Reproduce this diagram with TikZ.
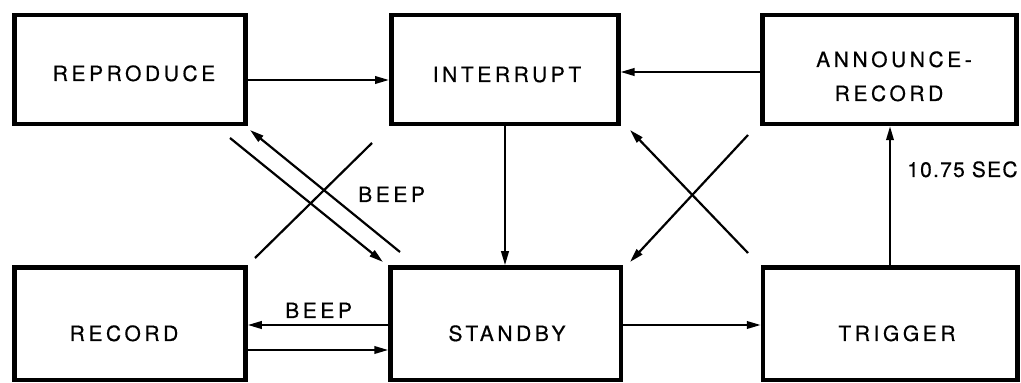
\documentclass[tikz,border=0pt]{standalone}
\usepackage{fontspec}
\usetikzlibrary{arrows.meta}
\newfontfamily\boxfont[LetterSpace=17,FakeBold=0.5]{TeX Gyre Heros}
\newfontfamily\secfont[LetterSpace=6,FakeBold=0.5]{TeX Gyre Heros}
\begin{document}
\begin{tikzpicture}[x=1pt,y=1pt,
  stbox/.style={draw, line width=4.5pt, minimum width=231pt, minimum height=109pt, inner sep=0pt},
  lbl/.style={font=\fontsize{21}{21}\selectfont\boxfont, inner sep=0pt, anchor=base},
  arr/.style={line width=2.2pt, -{Triangle[length=14pt,width=7.5pt]}},
  pln/.style={line width=2.2pt}]
\useasboundingbox (0,0) rectangle (1021,383);
% boxes
\node[stbox] (rep) at (130,313.5) {};
\node[stbox, minimum width=227pt] (int) at (504.75,313.5) {};
\node[stbox, minimum width=254pt] (ann) at (889.5,313.5) {};
\node[stbox, minimum height=112.5pt] (rec) at (130,59.25) {};
\node[stbox, minimum width=230.5pt, minimum height=112.5pt] (stb) at (505.75,59.25) {};
\node[stbox, minimum width=254.5pt, minimum height=112.5pt] (trg) at (890.25,59.25) {};
% labels
\node[lbl] (trep) at (134,302) {REPRODUCE};
\node[lbl] (tint) at (507,301) {INTERRUPT};
\node[lbl] (tann1) at (894,316) {ANNOUNCE-};
\node[lbl] (tann2) at (889,282) {RECORD};
\node[lbl] (trec) at (124,42) {RECORD};
\node[lbl] (tstb) at (507,42) {STANDBY};
\node[lbl] (ttrg) at (897,42) {TRIGGER};
% horizontal / vertical connectors
\draw[arr] (rep.east |- 0,303) -- (int.west |- 0,303);
\draw[arr] (ann.west |- 0,311) -- (int.east |- 0,311);
\draw[arr] (int.south -| 505,0) -- (stb.north -| 505,0);
\draw[arr] (trg.north -| 890,0) -- (ann.south -| 890,0);
\draw[arr] (stb.east |- 0,58) -- (trg.west |- 0,58);
\draw[arr] (stb.west |- 0,58) -- (rec.east |- 0,58);
\draw[arr] (rec.east |- 0,33) -- (stb.west |- 0,33);
% diagonal connectors
\coordinate (a1) at (230,245); \coordinate (a2) at (383,121);
\coordinate (b1) at (400,131); \coordinate (b2) at (250,253);
\coordinate (c1) at (372,240); \coordinate (c2) at (255,125);
\coordinate (d1) at (748,130); \coordinate (d2) at (630,253);
\coordinate (e1) at (748,248); \coordinate (e2) at (630,121);
\draw[arr] (a1) -- (a2);
\draw[arr] (b1) -- (b2);
\draw[pln] (c1) -- (c2);
\draw[arr] (d1) -- (d2);
\draw[arr] (e1) -- (e2);
% edge labels
\node[lbl, anchor=base west] (beep1) at (358,181) {BEEP};
\node[lbl, anchor=base west] (beep2) at (285,65) {BEEP};
\node[lbl, anchor=base west, font=\fontsize{21}{21}\selectfont\secfont] (sec) at (907,206) {10.75 SEC};
\end{tikzpicture}
\end{document}
